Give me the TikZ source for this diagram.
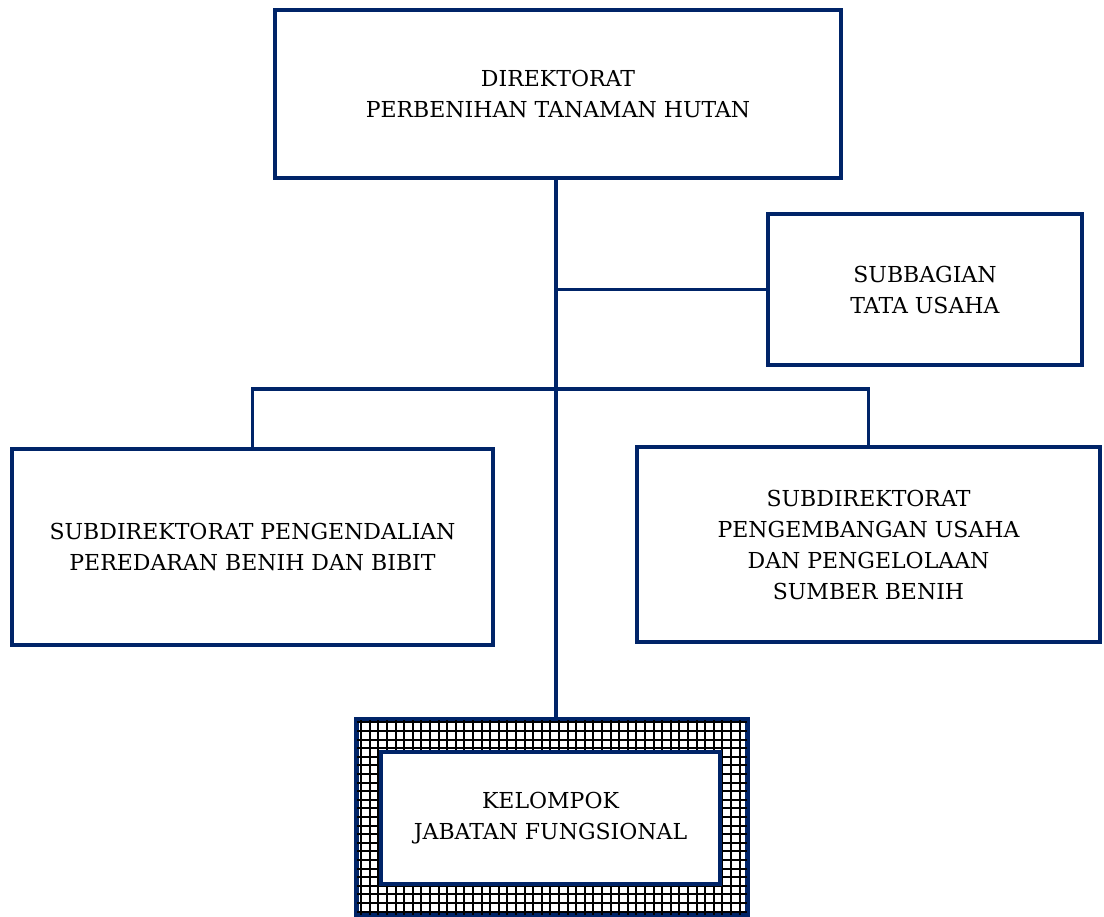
\documentclass[tikz,border=0pt]{standalone}
\usepackage{fontspec}
\setmainfont{DejaVu Serif}
\usepackage{tikz}

\definecolor{garis}{RGB}{0,36,104}

\begin{document}
\begin{tikzpicture}[x=1pt,y=-1pt,
    kotak/.style={draw=garis, line width=3.2pt, fill=white, align=center, inner sep=0pt,
      font=\fontsize{22}{31}\selectfont},
    hubung/.style={draw=garis, line width=3.2pt}]
  \useasboundingbox (0,0) rectangle (1104,917);

  \node[kotak, minimum width=566, minimum height=168] (direktorat) at (558,94)
    {DIREKTORAT\\PERBENIHAN TANAMAN HUTAN};
  \node[kotak, minimum width=314, minimum height=151] (tatausaha) at (925,289.5)
    {SUBBAGIAN\\TATA USAHA};
  \node[kotak, minimum width=481, minimum height=196] (pengendalian) at (252.5,547)
    {SUBDIREKTORAT PENGENDALIAN\\PEREDARAN BENIH DAN BIBIT};
  \node[kotak, minimum width=463, minimum height=195] (pengembangan) at (868.5,544.5)
    {SUBDIREKTORAT\\PENGEMBANGAN USAHA\\DAN PENGELOLAAN\\SUMBER BENIH};

  % kotak berarsir untuk kelompok jabatan fungsional
  \node[kotak, minimum width=390, minimum height=195] (kelompokluar) at (552,817.5) {};
  \begin{scope}
    \clip (kelompokluar.south west) rectangle (kelompokluar.north east);
    \draw[black, line width=2pt, step=8.6pt] (340,700) grid (760,930);
  \end{scope}
  \draw[garis, line width=3.2pt] (kelompokluar.south west) rectangle (kelompokluar.north east);
  \node[kotak, minimum width=339, minimum height=132] (kelompok) at (550.5,818)
    {KELOMPOK\\JABATAN FUNGSIONAL};

  \coordinate (cabang) at (556,389);
  \draw[hubung] (direktorat.south -| cabang) -- (kelompokluar.north -| cabang);
  \draw[hubung] (cabang |- tatausaha.west) -- (tatausaha.west);
  \draw[hubung] (pengendalian.north) |- (cabang) -| (pengembangan.north);
\end{tikzpicture}
\end{document}
